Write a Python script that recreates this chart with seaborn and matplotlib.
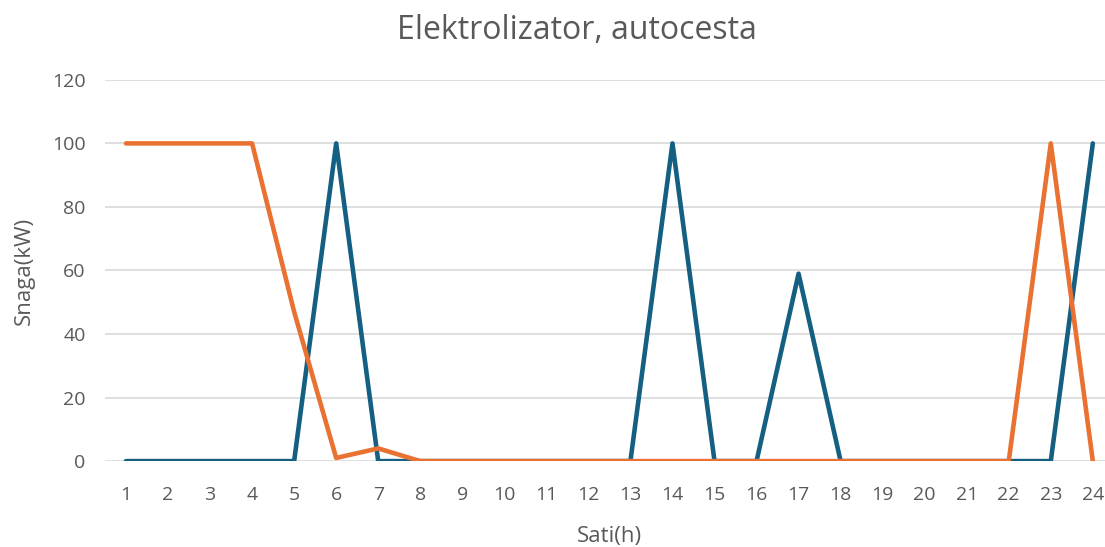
import pandas as pd
import matplotlib.pyplot as plt
import seaborn as sns

# Sati (h) i snaga (kW)
sati = list(range(1, 25))
plava = [0, 0, 0, 0, 0, 100, 0, 0, 0, 0, 0, 0, 0, 100, 0, 0, 59, 0, 0, 0, 0, 0, 0, 100]
narancasta = [100, 100, 100, 100, 47, 1, 4, 0, 0, 0, 0, 0, 0, 0, 0, 0, 0, 0, 0, 0, 0, 0, 100, 0]

df = pd.DataFrame({
    "Sati": sati * 2,
    "Snaga": plava + narancasta,
    "Serija": ["plava"] * 24 + ["narancasta"] * 24,
})

sns.set_style("white")
plt.rcParams["font.family"] = ["Open Sans", "DejaVu Sans"]

fig = plt.figure(figsize=(11.05, 5.47), dpi=100)
ax = fig.add_axes([0.095, 0.157, 0.913, 0.697])

sns.lineplot(data=df, x="Sati", y="Snaga", hue="Serija",
             palette={"plava": "#156082", "narancasta": "#E97132"},
             linewidth=3.3, legend=False, ax=ax)

siva = "#595959"
ax.set_xlim(0.5, 24.5)
ax.set_ylim(0, 120)
ax.set_xticks(sati)
ax.set_yticks(range(0, 121, 20))
ax.yaxis.grid(True, color="#d9d9d9", linewidth=1.2)
ax.set_axisbelow(True)
for s in ["top", "right", "left", "bottom"]:
    ax.spines[s].set_visible(False)
ax.tick_params(axis="both", length=0, labelsize=14, labelcolor=siva)
ax.tick_params(axis="x", pad=18)
ax.tick_params(axis="y", pad=14)

ax.set_xlabel("Sati(h)", fontsize=16, color=siva, labelpad=16)
ax.set_ylabel("Snaga(kW)", fontsize=16, color=siva, labelpad=12)
fig.suptitle("Elektrolizator, autocesta", fontsize=23, color=siva, x=0.522, y=0.975)

fig.savefig("out.png", dpi=100)
